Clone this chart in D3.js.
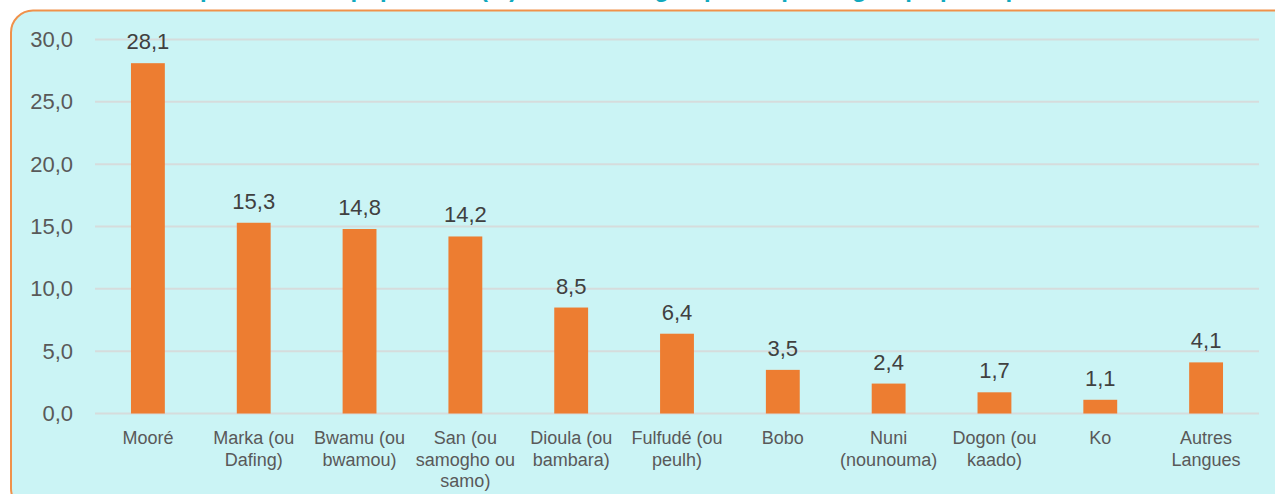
<!DOCTYPE html>
<html>
<head>
<meta charset="utf-8">
<script src="https://cdn.jsdelivr.net/npm/d3@7"></script>
<style>
  body { margin: 0; background: #fff; }
  svg { display: block; font-family: "Liberation Sans", Arial, sans-serif; }
</style>
</head>
<body>
<div id="chart"></div>
<script>
const categories = [
  ["Mooré"],
  ["Marka (ou", "Dafing)"],
  ["Bwamu (ou", "bwamou)"],
  ["San (ou", "samogho ou", "samo)"],
  ["Dioula (ou", "bambara)"],
  ["Fulfudé (ou", "peulh)"],
  ["Bobo"],
  ["Nuni", "(nounouma)"],
  ["Dogon (ou", "kaado)"],
  ["Ko"],
  ["Autres", "Langues"]
];
const values = [28.1, 15.3, 14.8, 14.2, 8.5, 6.4, 3.5, 2.4, 1.7, 1.1, 4.1];
const yTicks = [0, 5, 10, 15, 20, 25, 30];
const title = "Proportion de la population (%) selon la langue parlée par le groupe principal";

const width = 1275;
const height = 494;
const fmt = v => d3.format(".1f")(v).replace(".", ",");

const svg = d3.select("#chart")
  .append("svg")
  .attr("width", width)
  .attr("height", height);

// panel
svg.append("rect")
  .attr("x", 11)
  .attr("y", 10.5)
  .attr("width", 1290)
  .attr("height", 500)
  .attr("rx", 22)
  .style("fill", "#CBF4F5")
  .style("stroke", "#F0914A")
  .style("stroke-width", 2);

// title, cut off by the top edge as in the source
svg.append("text")
  .attr("x", 600)
  .attr("y", -3)
  .attr("text-anchor", "middle")
  .style("font-size", "24px")
  .style("font-weight", "bold")
  .style("fill", "#12A9BE")
  .text(title);

const x = d3.scaleBand()
  .domain(d3.range(categories.length))
  .range([95, 1259])
  .paddingInner(0.68)
  .paddingOuter(0.34);

const y = d3.scaleLinear()
  .domain([0, 30])
  .range([413.5, 39.5]);

// gridlines
svg.append("g")
  .selectAll("line")
  .data(yTicks)
  .enter()
  .append("line")
  .attr("x1", 95)
  .attr("x2", 1259)
  .attr("y1", d => y(d))
  .attr("y2", d => y(d))
  .style("stroke", "#D6DCDC")
  .style("stroke-width", 2);

// y axis labels
const yAxis = svg.append("g")
  .attr("transform", "translate(73,0)")
  .call(d3.axisLeft(y).tickValues(yTicks).tickFormat(fmt).tickSize(0).tickPadding(0));
yAxis.select(".domain").remove();
yAxis.selectAll("text")
  .style("font-size", "22px")
  .style("fill", "#595959")
  .style("font-family", "Liberation Sans, Arial, sans-serif");

// bars
svg.append("g")
  .selectAll("rect")
  .data(values)
  .enter()
  .append("rect")
  .attr("x", (d, i) => x(i))
  .attr("width", x.bandwidth())
  .attr("y", d => y(d))
  .attr("height", d => y(0) - y(d))
  .style("fill", "#ED7D31");

// value labels
svg.append("g")
  .selectAll("text")
  .data(values)
  .enter()
  .append("text")
  .attr("x", (d, i) => x(i) + x.bandwidth() / 2)
  .attr("y", d => y(d) - 14)
  .attr("text-anchor", "middle")
  .style("font-size", "22px")
  .style("fill", "#404040")
  .text(fmt);

// category labels
const cat = svg.append("g")
  .selectAll("text")
  .data(categories)
  .enter()
  .append("text")
  .attr("text-anchor", "middle")
  .attr("transform", (d, i) => `translate(${x(i) + x.bandwidth() / 2},444)`)
  .style("font-size", "18px")
  .style("fill", "#595959");

cat.selectAll("tspan")
  .data(d => d)
  .enter()
  .append("tspan")
  .attr("x", 0)
  .attr("y", (d, j) => j * 21.5)
  .text(d => d);
</script>
</body>
</html>
